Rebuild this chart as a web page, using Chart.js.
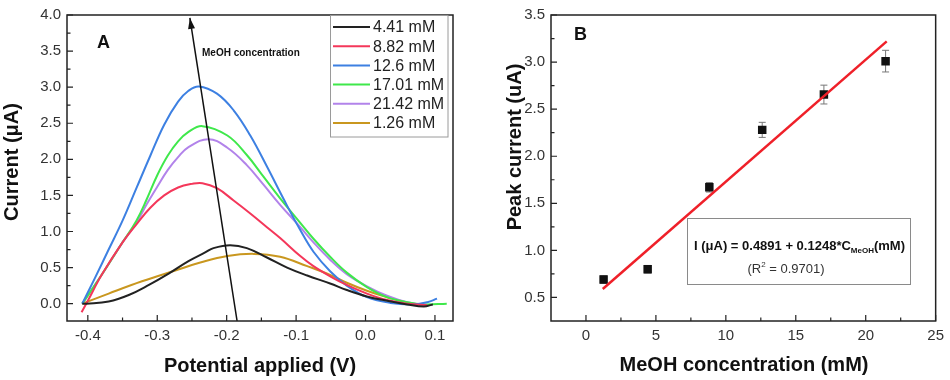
<!DOCTYPE html>
<html>
<head>
<meta charset="utf-8">
<script src="https://cdn.jsdelivr.net/npm/chart.js@4.4.1/dist/chart.umd.min.js"></script>
<style>
  html, body { margin: 0; padding: 0; background: #fff; }
  #wrap { position: relative; width: 950px; height: 380px; }
  canvas { position: absolute; top: 0; }
  #panelA { left: 0; }
  #panelB { left: 475px; }
</style>
</head>
<body>
<div id="wrap">
  <canvas id="panelA" width="475" height="380"></canvas>
  <canvas id="panelB" width="475" height="380"></canvas>
</div>
<script>
// ---- Panel A : curvas DPV (potencial V, corriente uA) ----
const labelsA = ['4.41 mM', '8.82 mM', '12.6 mM', '17.01 mM', '21.42 mM', '1.26 mM'];
const coloursA = ['#222222', '#f4375a', '#3d80e2', '#3fe84b', '#b283ea', '#c9971f'];

const v441 = [-0.408, -0.402, -0.370, -0.341, -0.312, -0.283, -0.255, -0.231, -0.219, -0.195, -0.171, -0.142, -0.113, -0.084, -0.051, -0.027, 0.002, 0.031, 0.060, 0.084, 0.097];
const i441 = [0, 0.0, 0.03, 0.12, 0.26, 0.42, 0.59, 0.71, 0.77, 0.81, 0.77, 0.64, 0.50, 0.39, 0.28, 0.19, 0.10, 0.04, -0.01, -0.04, -0.01];

const v882 = [-0.409, -0.400, -0.380, -0.350, -0.330, -0.310, -0.290, -0.270, -0.250, -0.235, -0.214, -0.190, -0.166, -0.142, -0.123, -0.094, -0.075, -0.051, -0.027, 0.002, 0.031, 0.060, 0.089];
const i882 = [-0.12, 0.04, 0.40, 0.85, 1.10, 1.33, 1.50, 1.61, 1.66, 1.67, 1.60, 1.43, 1.25, 1.06, 0.91, 0.66, 0.52, 0.38, 0.26, 0.14, 0.05, 0.00, -0.02];

const v126 = [-0.408, -0.390, -0.370, -0.350, -0.330, -0.310, -0.290, -0.270, -0.255, -0.240, -0.214, -0.190, -0.166, -0.142, -0.118, -0.094, -0.075, -0.051, -0.027, 0.002, 0.036, 0.069, 0.089, 0.103];
const i126 = [0, 0.35, 0.75, 1.15, 1.60, 2.05, 2.48, 2.80, 2.95, 3.01, 2.91, 2.68, 2.33, 1.90, 1.45, 1.02, 0.72, 0.45, 0.25, 0.09, 0.01, -0.01, 0.02, 0.07];

const v1701 = [-0.408, -0.380, -0.350, -0.330, -0.315, -0.300, -0.285, -0.270, -0.255, -0.235, -0.199, -0.171, -0.147, -0.123, -0.094, -0.075, -0.051, -0.027, 0.002, 0.031, 0.060, 0.084, 0.117];
const i1701 = [0, 0.40, 0.85, 1.15, 1.45, 1.78, 2.05, 2.25, 2.38, 2.46, 2.33, 2.06, 1.76, 1.46, 1.12, 0.90, 0.65, 0.43, 0.23, 0.09, 0.02, -0.01, 0.00];

const v2142 = [-0.408, -0.380, -0.350, -0.330, -0.315, -0.300, -0.285, -0.270, -0.255, -0.226, -0.199, -0.171, -0.147, -0.123, -0.094, -0.075, -0.051, -0.027, 0.002, 0.031, 0.060, 0.089, 0.097];
const i2142 = [0, 0.40, 0.85, 1.12, 1.38, 1.62, 1.85, 2.03, 2.17, 2.28, 2.16, 1.92, 1.65, 1.37, 1.06, 0.85, 0.61, 0.41, 0.24, 0.11, 0.02, -0.02, -0.01];

const v0126 = [-0.408, -0.370, -0.322, -0.274, -0.238, -0.199, -0.161, -0.123, -0.084, -0.051, -0.027, 0.002, 0.031, 0.060, 0.075];
const i0126 = [0, 0.14, 0.31, 0.46, 0.57, 0.66, 0.69, 0.65, 0.52, 0.40, 0.29, 0.18, 0.09, 0.01, -0.01];

// flecha "MeOH concentration"
const arrowX = [-0.185, -0.253];
const arrowY = [-0.24, 3.96];

const xTicksA = [-0.4, -0.3, -0.2, -0.1, 0.0, 0.1];
const xMinorA = [-0.35, -0.25, -0.15, -0.05, 0.05];
const yTicksA = [0, 0.5, 1.0, 1.5, 2.0, 2.5, 3.0, 3.5, 4.0];
const yMinorA = [0.25, 0.75, 1.25, 1.75, 2.25, 2.75, 3.25, 3.75];

// ---- Panel B : calibración ----
const concB = [1.26, 4.41, 8.82, 12.6, 17.01, 21.42];
const peakB = [0.69, 0.80, 1.67, 2.28, 2.655, 3.01];
const errB = [0.04, 0.04, 0.05, 0.08, 0.10, 0.115];
const fitX = [1.2, 21.5];
const fitY = [0.59, 3.22];

const xTicksB = [0, 5, 10, 15, 20, 25];
const xMinorB = [2.5, 7.5, 12.5, 17.5, 22.5];
const yTicksB = [0.5, 1.0, 1.5, 2.0, 2.5, 3.0, 3.5];
const yMinorB = [0.75, 1.25, 1.75, 2.25, 2.75, 3.25];

const FONT = "'Liberation Sans', Arial, sans-serif";
Chart.defaults.font.family = FONT;
Chart.defaults.color = '#333';

function pts(xs, ys) {
    return xs.map((x, i) => ({ x: x, y: ys[i] }));
}

function drawText(ctx, text, x, y, font, rot, align) {
    ctx.save();
    ctx.translate(x, y);
    if (rot) ctx.rotate(rot);
    ctx.font = font;
    ctx.fillStyle = '#111';
    ctx.textAlign = align || 'center';
    ctx.textBaseline = 'middle';
    ctx.fillText(text, 0, 0);
    ctx.restore();
}

// marco tipo Origin con ticks hacia adentro
function framePlugin(xMajor, xMinor, yMajor, yMinor) {
    return {
        id: 'frame',
        afterDatasetsDraw(chart) {
            const { ctx, chartArea: a, scales } = chart;
            ctx.save();
            ctx.strokeStyle = '#222';
            ctx.lineWidth = 1.5;
            ctx.strokeRect(a.left, a.top, a.right - a.left, a.bottom - a.top);
            ctx.lineWidth = 1.2;
            ctx.beginPath();
            xMajor.concat(xMinor).forEach((v, i) => {
                const px = scales.x.getPixelForValue(v);
                const len = i < xMajor.length ? 6 : 3.5;
                ctx.moveTo(px, a.bottom);
                ctx.lineTo(px, a.bottom - len);
            });
            yMajor.concat(yMinor).forEach((v, i) => {
                const py = scales.y.getPixelForValue(v);
                const len = i < yMajor.length ? 6 : 3.5;
                ctx.moveTo(a.left, py);
                ctx.lineTo(a.left + len, py);
            });
            ctx.stroke();
            ctx.restore();
        }
    };
}

function fixedTicks(list) {
    return function (scale) {
        scale.ticks = list.map(v => ({ value: v }));
    };
}

// ---------- Gráfico A ----------
const seriesA = [[v441, i441], [v882, i882], [v126, i126], [v1701, i1701], [v2142, i2142], [v0126, i0126]];
const datasetsA = seriesA.map((s, k) => ({
    label: labelsA[k],
    data: pts(s[0], s[1]),
    borderColor: coloursA[k],
    borderWidth: 2,
    pointRadius: 0,
    tension: 0.4,
    fill: false
}));
datasetsA.unshift({
    label: 'arrow',
    isArrow: true,
    data: pts(arrowX, arrowY),
    borderColor: '#111',
    borderWidth: 1.5,
    pointRadius: 0,
    fill: false
});

const annotA = {
    id: 'annotA',
    afterDatasetsDraw(chart) {
        const { ctx, scales } = chart;
        // punta de flecha
        const x0 = scales.x.getPixelForValue(arrowX[0]), y0 = scales.y.getPixelForValue(arrowY[0]);
        const x1 = scales.x.getPixelForValue(arrowX[1]), y1 = scales.y.getPixelForValue(arrowY[1]);
        const ang = Math.atan2(y1 - y0, x1 - x0);
        ctx.save();
        ctx.fillStyle = '#111';
        ctx.beginPath();
        ctx.moveTo(x1, y1);
        ctx.lineTo(x1 - 11 * Math.cos(ang) + 3.5 * Math.sin(ang), y1 - 11 * Math.sin(ang) - 3.5 * Math.cos(ang));
        ctx.lineTo(x1 - 11 * Math.cos(ang) - 3.5 * Math.sin(ang), y1 - 11 * Math.sin(ang) + 3.5 * Math.cos(ang));
        ctx.closePath();
        ctx.fill();
        ctx.restore();

        drawText(ctx, 'MeOH concentration', 202, 53, 'bold 10px ' + FONT, 0, 'left');
        drawText(ctx, 'A', 97, 43, 'bold 18px ' + FONT, 0, 'left');

        // leyenda
        ctx.save();
        ctx.strokeStyle = '#9a9a9a';
        ctx.lineWidth = 1;
        ctx.fillStyle = '#fff';
        ctx.fillRect(330.5, 15.5, 117.5, 121.5);
        ctx.strokeRect(330.5, 15.5, 117.5, 121.5);
        chart.data.datasets.filter(d => !d.isArrow).forEach((d, i) => {
            const y = 27 + i * 19.2;
            ctx.strokeStyle = d.borderColor;
            ctx.lineWidth = 2;
            ctx.beginPath();
            ctx.moveTo(333, y);
            ctx.lineTo(370, y);
            ctx.stroke();
            ctx.font = '16px ' + FONT;
            ctx.fillStyle = '#222';
            ctx.textAlign = 'left';
            ctx.textBaseline = 'middle';
            ctx.fillText(d.label, 373, y + 1);
        });
        ctx.restore();
    },
    afterDraw(chart) {
        const ctx = chart.ctx;
        drawText(ctx, 'Current (\u03bcA)', 12, 162, 'bold 20px ' + FONT, -Math.PI / 2);
        drawText(ctx, 'Potential applied (V)', 260, 366, 'bold 20px ' + FONT);
    }
};

new Chart(document.getElementById('panelA'), {
    type: 'line',
    data: { datasets: datasetsA },
    options: {
        responsive: false,
        animation: false,
        layout: { padding: { top: 10, right: 22, left: 0, bottom: 0 } },
        plugins: { legend: { display: false }, tooltip: { enabled: false } },
        scales: {
            x: {
                type: 'linear',
                min: -0.43,
                max: 0.126,
                afterBuildTicks: fixedTicks(xTicksA),
                afterFit: s => { s.height = 59; },
                grid: { display: false, drawTicks: false },
                border: { display: false },
                ticks: { autoSkip: false, padding: 6, font: { size: 15 }, callback: v => v.toFixed(1) }
            },
            y: {
                min: -0.24,
                max: 4.0,
                afterBuildTicks: fixedTicks(yTicksA),
                afterFit: s => { s.width = 67; },
                grid: { display: false, drawTicks: false },
                border: { display: false },
                ticks: { autoSkip: false, padding: 6, font: { size: 15 }, callback: v => v.toFixed(1) }
            }
        }
    },
    plugins: [framePlugin(xTicksA, xMinorA, yTicksA, yMinorA), annotA]
});

// ---------- Gráfico B ----------
const annotB = {
    id: 'annotB',
    beforeDatasetsDraw(chart) {
        const { ctx, scales } = chart;
        ctx.save();
        ctx.strokeStyle = '#777';
        ctx.lineWidth = 1;
        ctx.beginPath();
        concB.forEach((c, i) => {
            const px = scales.x.getPixelForValue(c);
            const top = scales.y.getPixelForValue(peakB[i] + errB[i]);
            const bot = scales.y.getPixelForValue(peakB[i] - errB[i]);
            ctx.moveTo(px, top); ctx.lineTo(px, bot);
            ctx.moveTo(px - 3.5, top); ctx.lineTo(px + 3.5, top);
            ctx.moveTo(px - 3.5, bot); ctx.lineTo(px + 3.5, bot);
        });
        ctx.stroke();
        ctx.restore();
    },
    afterDatasetsDraw(chart) {
        const ctx = chart.ctx;
        drawText(ctx, 'B', 99, 35, 'bold 18px ' + FONT, 0, 'left');

        // cuadro de la ecuación
        ctx.save();
        ctx.strokeStyle = '#8a8a8a';
        ctx.lineWidth = 1;
        ctx.fillStyle = '#fff';
        ctx.fillRect(212.5, 218.5, 223, 66);
        ctx.strokeRect(212.5, 218.5, 223, 66);

        const big = 'bold 13px ' + FONT, small = 'bold 8px ' + FONT;
        const p1 = 'I (\u03bcA) = 0.4891 + 0.1248*C', p2 = 'MeOH', p3 = '(mM)';
        ctx.font = big; const w1 = ctx.measureText(p1).width, w3 = ctx.measureText(p3).width;
        ctx.font = small; const w2 = ctx.measureText(p2).width;
        let x = 324.5 - (w1 + w2 + w3) / 2;
        ctx.fillStyle = '#111';
        ctx.textBaseline = 'alphabetic';
        ctx.textAlign = 'left';
        ctx.font = big; ctx.fillText(p1, x, 250); x += w1;
        ctx.font = small; ctx.fillText(p2, x, 253); x += w2;
        ctx.font = big; ctx.fillText(p3, x, 250);

        const n = '13px ' + FONT, sup = '8px ' + FONT;
        const q1 = '(R', q2 = '2', q3 = ' = 0.9701)';
        ctx.font = n; const u1 = ctx.measureText(q1).width, u3 = ctx.measureText(q3).width;
        ctx.font = sup; const u2 = ctx.measureText(q2).width;
        x = 311 - (u1 + u2 + u3) / 2;
        ctx.fillStyle = '#333';
        ctx.font = n; ctx.fillText(q1, x, 273); x += u1;
        ctx.font = sup; ctx.fillText(q2, x, 267); x += u2;
        ctx.font = n; ctx.fillText(q3, x, 273);
        ctx.restore();
    },
    afterDraw(chart) {
        const ctx = chart.ctx;
        drawText(ctx, 'Peak current (uA)', 40, 147, 'bold 20px ' + FONT, -Math.PI / 2);
        drawText(ctx, 'MeOH concentration (mM)', 269, 365, 'bold 20px ' + FONT);
    }
};

new Chart(document.getElementById('panelB'), {
    type: 'scatter',
    data: {
        datasets: [
            {
                type: 'line',
                label: 'fit',
                data: pts(fitX, fitY),
                borderColor: '#ef2029',
                borderWidth: 2.5,
                pointRadius: 0,
                fill: false
            },
            {
                label: 'Peak current',
                data: pts(concB, peakB),
                pointStyle: 'rect',
                pointRadius: 6,
                pointBorderWidth: 0,
                backgroundColor: '#111',
                borderColor: '#111'
            }
        ]
    },
    options: {
        responsive: false,
        animation: false,
        layout: { padding: { top: 10, right: 13, left: 0, bottom: 0 } },
        plugins: { legend: { display: false }, tooltip: { enabled: false } },
        scales: {
            x: {
                type: 'linear',
                min: -2.5,
                max: 25,
                afterBuildTicks: fixedTicks(xTicksB),
                afterFit: s => { s.height = 59; },
                grid: { display: false, drawTicks: false },
                border: { display: false },
                ticks: { autoSkip: false, padding: 6, font: { size: 15 }, callback: v => String(v) }
            },
            y: {
                min: 0.25,
                max: 3.5,
                afterBuildTicks: fixedTicks(yTicksB),
                afterFit: s => { s.width = 76; },
                grid: { display: false, drawTicks: false },
                border: { display: false },
                ticks: { autoSkip: false, padding: 6, font: { size: 15 }, callback: v => v.toFixed(1) }
            }
        }
    },
    plugins: [framePlugin(xTicksB, xMinorB, yTicksB, yMinorB), annotB]
});
</script>
</body>
</html>
